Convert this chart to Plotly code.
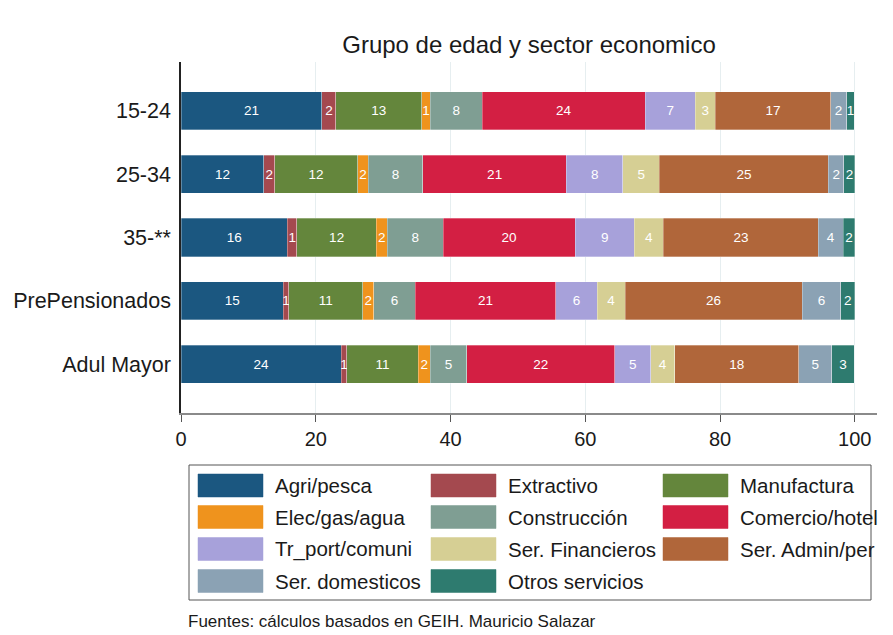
import plotly.graph_objects as go

# ---------------- data ----------------
groups = ["15-24", "25-34", "35-**", "PrePensionados", "Adul Mayor"]
sectors = ["Agri/pesca", "Extractivo", "Manufactura",
           "Elec/gas/agua", "Construcción", "Comercio/hotel",
           "Tr_port/comuni", "Ser. Financieros", "Ser. Admin/per",
           "Ser. domesticos", "Otros servicios"]

agri = [20.9, 12.3, 15.8, 15.2, 23.8]
extractivo = [2.1, 1.6, 1.4, 0.8, 0.8]
manufactura = [12.7, 12.3, 11.8, 11.0, 10.6]
elec = [1.3, 1.6, 1.6, 1.6, 1.8]
construccion = [7.7, 8.1, 8.3, 6.2, 5.4]
comercio = [24.2, 21.3, 19.6, 20.8, 22.0]
transporte = [7.4, 8.4, 8.8, 6.2, 5.3]
financieros = [3.0, 5.4, 4.3, 4.1, 3.6]
admin = [17.1, 25.1, 23.0, 26.3, 18.4]
domesticos = [2.4, 2.3, 3.7, 5.7, 4.9]
otros = [1.1, 1.6, 1.7, 2.1, 3.3]

series = [agri, extractivo, manufactura, elec, construccion, comercio,
          transporte, financieros, admin, domesticos, otros]

colors = ["#1b5780", "#a4494f", "#64863c", "#ef931d", "#7f9e93", "#d31f43",
          "#a7a1da", "#d6cf94", "#b0663a", "#8ba2b4", "#2e7b6f"]

FONT = "Liberation Sans, Arial, sans-serif"
OFF = 8                      # default body margin of the page
W, H = 893 - OFF, 635 - OFF
# plot area in page pixels (reference), converted to figure pixels
L, R, T, B = 181 - OFF, 877 - OFF, 62 - OFF, 413 - OFF

fig = go.Figure()
for name, vals, col in zip(sectors, series, colors):
    fig.add_trace(go.Bar(
        y=groups, x=vals, name=name, orientation="h",
        marker=dict(color=col, line=dict(width=0.6, color="rgba(255,255,255,0.5)")),
        texttemplate="%{x:.0f}", textposition="inside", insidetextanchor="middle",
        textangle=0, constraintext="none",
        textfont=dict(color="white", size=13.5, family=FONT),
        showlegend=False,
    ))

# ---------- custom legend (Stata style wide swatches) ----------
def px(xp):
    return (xp - OFF - L) / (R - L)

def py(yp):
    return (B - (yp - OFF)) / (B - T)

shapes = [dict(type="rect", xref="paper", yref="paper",
               x0=px(189), x1=px(871), y0=py(465), y1=py(600),
               line=dict(color="#555555", width=1), fillcolor="white", layer="below")]
annotations = []
col_x = [198, 431, 663]
row_y = [485.5, 517, 549, 581]
for i, (name, col) in enumerate(zip(sectors, colors)):
    cx = col_x[i % 3]
    cy = row_y[i // 3]
    shapes.append(dict(type="rect", xref="paper", yref="paper",
                       x0=px(cx), x1=px(cx + 65), y0=py(cy - 11.5), y1=py(cy + 11.5),
                       line=dict(color=col, width=0.5), fillcolor=col, layer="above"))
for i, (name, col) in enumerate(zip(sectors, colors)):
    cx = col_x[i % 3]
    cy = row_y[i // 3]
    annotations.append(dict(xref="paper", yref="paper", x=px(cx + 75), y=py(cy),
                            text=name, showarrow=False, xanchor="left", yanchor="middle",
                            font=dict(size=20.5, color="#1a1a1a", family=FONT)))

annotations.append(dict(xref="paper", yref="paper", x=px(186), y=py(621),
                        text="Fuentes: cálculos basados en GEIH. Mauricio Salazar",
                        showarrow=False, xanchor="left", yanchor="middle",
                        font=dict(size=17, color="#1a1a1a", family=FONT)))

fig.update_layout(
    width=W, height=H,
    barmode="stack", bargap=0.4,
    paper_bgcolor="white", plot_bgcolor="white",
    margin=dict(l=L, r=W - R, t=T, b=H - B, pad=0, autoexpand=False),
    title=dict(text="Grupo de edad y sector economico", x=(L + R) / 2 / W, xanchor="center",
               y=1 - (45 - OFF) / H, yanchor="middle",
               font=dict(size=24, color="#1a1a1a", family=FONT)),
    font=dict(family=FONT),
    shapes=shapes, annotations=annotations,
    showlegend=False,
)
fig.update_xaxes(range=[0, 103.3], tickvals=[0, 20, 40, 60, 80, 100], automargin=False,
                 showgrid=True, gridcolor="#e6eef0", gridwidth=1,
                 showline=True, linecolor="#8a8a8a", linewidth=2,
                 ticks="outside", ticklen=7, tickcolor="#555555",
                 tickfont=dict(size=20, color="#1a1a1a", family=FONT),
                 zeroline=False)
fig.update_yaxes(type="category", categoryorder="array", categoryarray=groups, automargin=False,
                 range=[4.77, -0.77], showline=True, linecolor="#222222", linewidth=1.5,
                 ticks="", ticklabelstandoff=4,
                 tickfont=dict(size=21.5, color="#1a1a1a", family=FONT),
                 showgrid=False)

fig.write_html("out.html")
